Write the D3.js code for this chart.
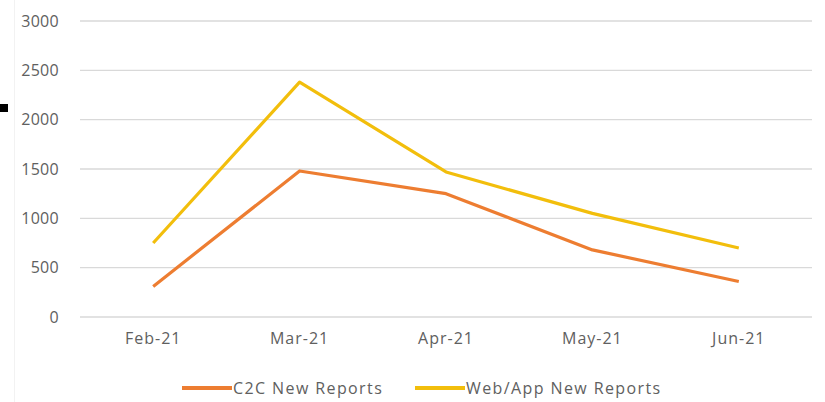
<!DOCTYPE html>
<html>
<head>
<meta charset="utf-8">
<script src="https://cdn.jsdelivr.net/npm/d3@7"></script>
<style>
  body { margin: 0; background: #fff; }
  svg { display: block; }
</style>
</head>
<body>
<div id="chart"></div>
<script>
const months = ["Feb-21", "Mar-21", "Apr-21", "May-21", "Jun-21"];
const c2cReports = [310, 1480, 1250, 680, 360];
const webAppReports = [750, 2380, 1470, 1050, 700];
const yTicks = [0, 500, 1000, 1500, 2000, 2500, 3000];

const width = 825, height = 402;
const margin = { top: 21, right: 13, bottom: 85, left: 80 };
const fontFamily = "'Open Sans', sans-serif";
const textColor = "#606060";

const svg = d3.select("#chart").append("svg")
    .attr("width", width)
    .attr("height", height);

// 左上角的小黑块和淡边框（原图里就有）
svg.append("rect")
    .attr("x", 0).attr("y", 104)
    .attr("width", 8).attr("height", 8)
    .attr("fill", "#000");
svg.append("line")
    .attr("x1", 14.5).attr("x2", 14.5)
    .attr("y1", 0).attr("y2", height)
    .attr("stroke", "#f2f2f2");

const x = d3.scaleBand()
    .domain(months)
    .range([margin.left, width - margin.right]);

const y = d3.scaleLinear()
    .domain([0, 3000])
    .range([height - margin.bottom, margin.top]);

// 网格线
svg.append("g")
    .selectAll("line")
    .data(yTicks)
    .join("line")
    .attr("x1", margin.left)
    .attr("x2", width - margin.right)
    .attr("y1", d => y(d))
    .attr("y2", d => y(d))
    .attr("stroke", "#d9d9d9")
    .attr("stroke-width", 1.3);

const yAxis = d3.axisLeft(y)
    .tickValues(yTicks)
    .tickFormat(d3.format("d"))
    .tickSize(0)
    .tickPadding(21);
svg.append("g")
    .attr("transform", `translate(${margin.left},0)`)
    .call(yAxis)
    .call(g => g.select(".domain").remove())
    .selectAll("text")
    .attr("fill", textColor)
    .style("font-family", fontFamily)
    .style("font-size", "16px")
    .style("letter-spacing", "0.3px");

const xAxis = d3.axisBottom(x).tickSize(0).tickPadding(16);
svg.append("g")
    .attr("transform", `translate(0,${y(0)})`)
    .call(xAxis)
    .call(g => g.select(".domain").remove())
    .selectAll("text")
    .attr("fill", textColor)
    .style("font-family", fontFamily)
    .style("font-size", "16px")
    .style("letter-spacing", "1px");

const series = [
    { name: "C2C New Reports", values: c2cReports, color: "#ED7D31" },
    { name: "Web/App New Reports", values: webAppReports, color: "#F2BE0C" }
];

const line = d3.line()
    .x((d, i) => x(months[i]) + x.bandwidth() / 2)
    .y(d => y(d));

svg.append("g")
    .selectAll("path")
    .data(series)
    .join("path")
    .attr("d", d => line(d.values))
    .attr("fill", "none")
    .attr("stroke", d => d.color)
    .attr("stroke-width", 3.2)
    .attr("stroke-linejoin", "round");

// 图例
const legendX = [182, 415];
const legend = svg.append("g")
    .selectAll("g")
    .data(series)
    .join("g")
    .attr("transform", (d, i) => `translate(${legendX[i]},388)`);

legend.append("line")
    .attr("x1", 0).attr("x2", 50)
    .attr("stroke", d => d.color)
    .attr("stroke-width", 4);

legend.append("text")
    .attr("x", 51)
    .attr("dy", "0.35em")
    .attr("fill", textColor)
    .style("font-family", fontFamily)
    .style("font-size", "16px")
    .style("letter-spacing", "1.4px")
    .text(d => d.name);
</script>
</body>
</html>
